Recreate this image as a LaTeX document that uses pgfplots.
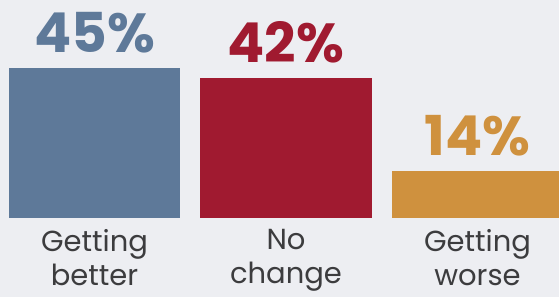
\documentclass[border=0pt]{standalone}
\usepackage{pgfplots}
\pgfplotsset{compat=1.18}
\usepackage{fontspec}
\setmainfont{Poppins}
\definecolor{bg}{RGB}{237,238,242}
\definecolor{cblue}{RGB}{94,121,153}
\definecolor{cred}{RGB}{160,26,48}
\definecolor{cgold}{RGB}{207,145,62}
\definecolor{ctext}{RGB}{60,60,62}
\begin{document}
\begin{tikzpicture}
\useasboundingbox (0,0) rectangle (559bp,297bp);
\fill[bg] (0,0) rectangle (559bp,297bp);
\begin{axis}[
  scale only axis, width=559bp, height=297bp,
  at={(0,0)}, anchor=south west,
  xmin=-0.4935, xmax=2.4256, ymin=-23.7, ymax=65.4,
  axis x line=middle, axis y line=none,
  x axis line style={draw=none},
  ytick=\empty,
  xtick={0,1,2},
  xticklabels={Getting\\better, No\\change, Getting\\worse},
  major tick length=0pt,
  xticklabel style={align=center, inner sep=0pt, yshift=-11bp, text=ctext,
    font=\fontsize{29bp}{34bp}\selectfont},
  /pgf/number format/assume math mode=true,
  ybar, bar width=0.898, bar shift=0pt,
  nodes near coords={\pgfmathprintnumber[assume math mode=true]{\pgfplotspointmeta}\%},
  every node near coord/.append style={anchor=south, inner sep=0pt, yshift=15bp,
    font=\fontsize{55bp}{60bp}\selectfont\bfseries},
  clip=true,
]
\addplot[fill=cblue, draw=none, nodes near coords style={text=cblue}] coordinates {(0,45)};
\addplot[fill=cred, draw=none, nodes near coords style={text=cred}] coordinates {(1,42)};
\addplot[fill=cgold, draw=none, nodes near coords style={text=cgold}] coordinates {(2,14)};
\end{axis}
\end{tikzpicture}
\end{document}
